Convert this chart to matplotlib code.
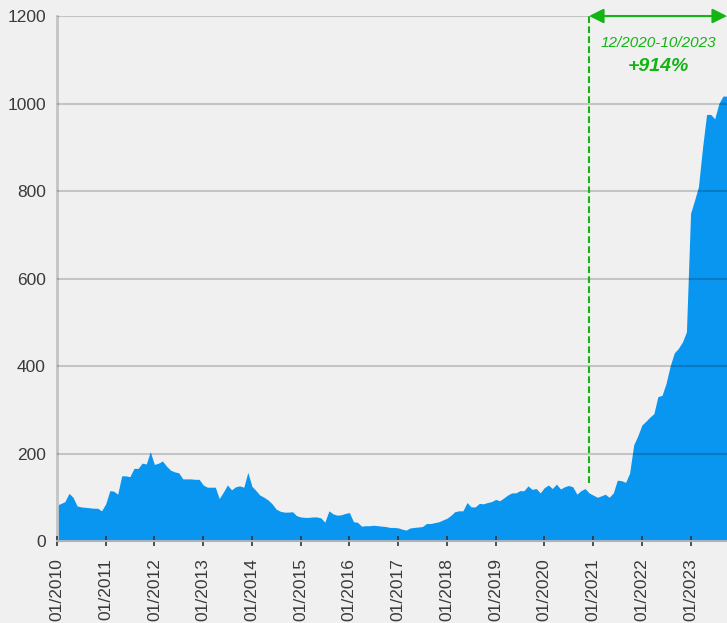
import numpy as np
import pandas as pd
import matplotlib
matplotlib.use("Agg")
import matplotlib.pyplot as plt
import matplotlib.dates as mdates

# monthly values, 01/2010 .. 10/2023
values = [
    82, 86, 90, 109, 100, 80, 78, 77, 76, 75, 75, 69,          # 2010
    85, 115, 114, 107, 149, 149, 147, 166, 166, 178, 176, 204,  # 2011
    175, 178, 183, 171, 162, 158, 156, 142, 142, 142, 141, 141, # 2012
    128, 123, 123, 123, 97, 112, 128, 117, 124, 126, 123, 157,  # 2013
    125, 115, 105, 100, 94, 85, 73, 68, 66, 66, 67, 58,         # 2014
    55, 54, 54, 55, 55, 53, 43, 69, 62, 59, 60, 63,             # 2015
    65, 44, 43, 34, 35, 35, 36, 35, 34, 33, 31, 31,             # 2016
    30, 27, 25, 30, 31, 32, 33, 40, 40, 42, 44, 48,             # 2017
    52, 59, 67, 69, 69, 88, 78, 78, 86, 85, 88, 90,             # 2018
    95, 92, 98, 105, 110, 110, 115, 115, 126, 118, 120, 110,    # 2019
    122, 128, 120, 130, 119, 124, 127, 124, 107, 115, 120, 110, # 2020
    105, 100, 103, 107, 100, 110, 139, 138, 134, 155, 220, 240, # 2021
    265, 274, 283, 291, 330, 333, 360, 400, 430, 440, 455, 478, # 2022
    749, 780, 810, 900, 975, 975, 965, 1000, 1017, 1017,        # 2023 (to 10)
]
dates = pd.date_range("2010-01-01", periods=len(values), freq="MS")
start_mark = pd.Timestamp("2020-12-01")
range_label = "12/2020-10/2023"
change_label = "+914%"

bg = "#f0f0f0"
blue = "#0996f0"
green = "#12b512"
plt.rcParams["font.family"] = ["Liberation Sans", "DejaVu Sans"]

fig = plt.figure(figsize=(7.27, 6.23), dpi=100, facecolor=bg)
ax = fig.add_axes([0.0784, 0.1316, 0.9216, 0.8427])
ax.set_facecolor(bg)

ax.fill_between(dates, values, 0, color=blue, linewidth=0, zorder=2)

ax.set_ylim(0, 1200)
ax.set_xlim(dates[0], dates[-1])
ax.set_yticks([0, 200, 400, 600, 800, 1000, 1200])
ax.yaxis.grid(True, color="black", alpha=0.18, linewidth=1.5, zorder=3)
ax.set_axisbelow(False)

ax.xaxis.set_major_locator(mdates.YearLocator(1, month=1, day=1))
ax.xaxis.set_major_formatter(mdates.DateFormatter("%m/%Y"))
ax.tick_params(axis="x", rotation=90, labelsize=12.5, labelcolor="#3a3a3a",
               direction="inout", length=6.5, width=1.2, color="#333333", pad=9)
ax.tick_params(axis="y", labelsize=12.5, labelcolor="#3a3a3a", length=0, pad=8)

for s in ["top", "right"]:
    ax.spines[s].set_visible(False)
ax.spines["left"].set_color("#c4c4c4")
ax.spines["left"].set_linewidth(2)
ax.spines["bottom"].set_color("#a9b2bb")
ax.spines["bottom"].set_linewidth(1.5)
ax.spines["bottom"].set_zorder(4)

# highlight of the last period
ax.plot([start_mark, start_mark], [132, 1200], color=green, lw=1.5,
        linestyle=(0, (3.2, 1.6)), zorder=5, clip_on=False)
ax.annotate("", xy=(dates[-1], 1200), xytext=(start_mark, 1200),
            arrowprops=dict(arrowstyle="<|-|>", color=green, lw=1.5,
                            mutation_scale=22, shrinkA=0, shrinkB=0),
            annotation_clip=False, zorder=6)
mid = start_mark + (dates[-1] - start_mark) / 2
ax.text(mid, 1130, range_label, color=green, fontsize=11, style="italic",
        ha="center", va="baseline")
ax.text(mid, 1075, change_label, color=green, fontsize=14, style="italic",
        fontweight="bold", ha="center", va="baseline")

plt.savefig("out.png", dpi=100, facecolor=bg)
